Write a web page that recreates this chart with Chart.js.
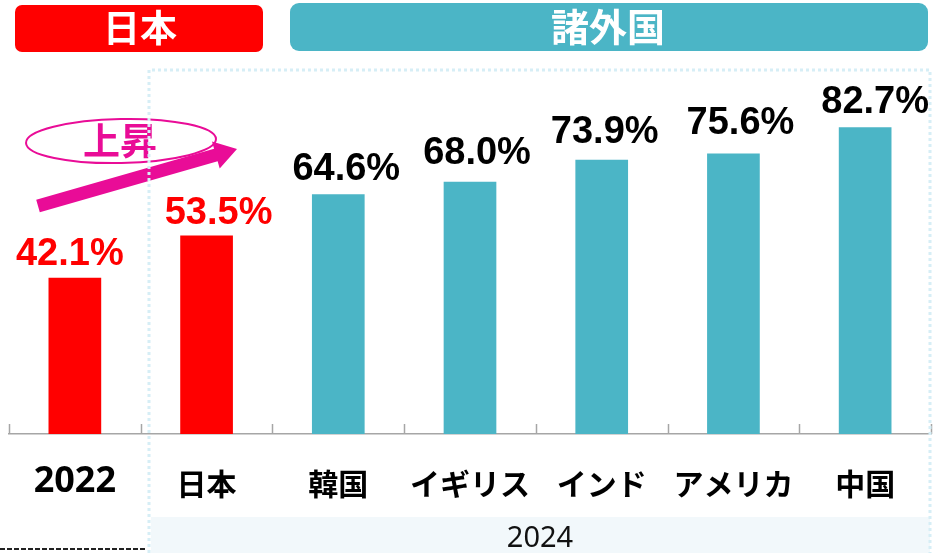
<!DOCTYPE html>
<html>
<head>
<meta charset="utf-8">
<script src="https://cdn.jsdelivr.net/npm/chart.js@4/dist/chart.umd.min.js"></script>
<style>
  html, body { margin: 0; padding: 0; background: #fff; }
  #wrap { width: 934px; height: 553px; }
</style>
</head>
<body>
<div id="wrap"><canvas id="chart" width="934" height="553"></canvas></div>
<script>
// data
const categories = ['2022', '日本', '韓国', 'イギリス', 'インド', 'アメリカ', '中国'];
const rates = [42.1, 53.5, 64.6, 68.0, 73.9, 75.6, 82.7];
const groupTitles = ['日本', '諸外国'];
const yearLabel = '2024';
const riseLabel = '上昇';

const RED = '#ff0000';
const TEAL = '#4bb5c6';
const PINK = '#e90c97';
const JP = '"Noto Sans CJK JP", sans-serif';

// small hand nudges for the value labels (dx, gap above bar)
const labelDx = [-5, 12, 8, 7, 3, 7, 10];
const labelGap = [13, 12, 14, 18, 17, 20, 14];

function roundRect(ctx, x, y, w, h, r, fill) {
    ctx.beginPath();
    ctx.moveTo(x + r, y);
    ctx.arcTo(x + w, y, x + w, y + h, r);
    ctx.arcTo(x + w, y + h, x, y + h, r);
    ctx.arcTo(x, y + h, x, y, r);
    ctx.arcTo(x, y, x + w, y, r);
    ctx.closePath();
    ctx.fillStyle = fill;
    ctx.fill();
}

const decorations = {
    id: 'decorations',
    beforeDraw(chart) {
        const ctx = chart.ctx;
        ctx.save();
        // 2024 band
        ctx.fillStyle = '#f2f8fb';
        ctx.fillRect(151, 517, 779, 36);
        ctx.fillStyle = '#111';
        ctx.font = '29px "Noto Sans", sans-serif';
        ctx.textAlign = 'center';
        ctx.textBaseline = 'middle';
        ctx.fillText(yearLabel, 540, 539);

        // group headers
        roundRect(ctx, 15, 5, 248, 47, 7, RED);
        roundRect(ctx, 290, 3, 638, 48, 9, TEAL);
        ctx.fillStyle = '#fff';
        ctx.font = 'bold 37px ' + JP;
        ctx.fillText(groupTitles[0], 140, 28);
        ctx.font = 'bold 38px ' + JP;
        ctx.fillText(groupTitles[1], 608, 27);

        // dashed line bottom left
        ctx.strokeStyle = '#222';
        ctx.lineWidth = 2;
        ctx.setLineDash([5, 2]);
        ctx.beginPath();
        ctx.moveTo(0, 549);
        ctx.lineTo(147, 549);
        ctx.stroke();
        ctx.restore();
    },
    afterDatasetsDraw(chart) {
        const ctx = chart.ctx;
        const x = chart.scales.x;
        const area = chart.chartArea;
        ctx.save();

        // tick marks pointing up from the axis
        ctx.strokeStyle = '#a6a6a6';
        ctx.lineWidth = 1.5;
        ctx.beginPath();
        for (let i = 0; i <= categories.length; i++) {
            const px = i < categories.length
                ? x.getPixelForValue(i) - (x.getPixelForValue(1) - x.getPixelForValue(0)) / 2
                : area.right;
            ctx.moveTo(Math.round(px) + 0.5, area.bottom - 10);
            ctx.lineTo(Math.round(px) + 0.5, area.bottom);
        }
        ctx.stroke();

        // value labels
        const meta = chart.getDatasetMeta(0);
        ctx.font = 'bold 38px "Liberation Sans", Arial, sans-serif';
        ctx.textAlign = 'center';
        ctx.textBaseline = 'alphabetic';
        meta.data.forEach((bar, i) => {
            ctx.fillStyle = i < 2 ? RED : '#000';
            ctx.fillText(rates[i].toFixed(1) + '%', bar.x + labelDx[i], bar.y - labelGap[i]);
        });

        // rise arrow
        const sx = 38, sy = 206, ex = 237, ey = 149;
        const len = Math.hypot(ex - sx, ey - sy);
        ctx.save();
        ctx.translate(sx, sy);
        ctx.rotate(Math.atan2(ey - sy, ex - sx));
        ctx.fillStyle = PINK;
        ctx.beginPath();
        ctx.moveTo(0, -6.5);
        ctx.lineTo(len - 22, -6.5);
        ctx.lineTo(len - 22, -14);
        ctx.lineTo(len, 0);
        ctx.lineTo(len - 22, 14);
        ctx.lineTo(len - 22, 6.5);
        ctx.lineTo(0, 6.5);
        ctx.closePath();
        ctx.fill();
        ctx.restore();

        ctx.strokeStyle = PINK;
        ctx.lineWidth = 2;
        ctx.beginPath();
        ctx.ellipse(121, 141, 95, 22, -0.02, 0, Math.PI * 2);
        ctx.stroke();
        ctx.fillStyle = PINK;
        ctx.font = 'bold 37px ' + JP;
        ctx.textAlign = 'center';
        ctx.textBaseline = 'middle';
        ctx.fillText(riseLabel, 120, 141);

        // dotted frame round the 2024 group
        ctx.strokeStyle = '#d6eef6';
        ctx.lineWidth = 3;
        ctx.setLineDash([3, 3]);
        ctx.beginPath();
        ctx.moveTo(149, 553);
        ctx.lineTo(149, 70);
        ctx.lineTo(930, 70);
        ctx.lineTo(930, 553);
        ctx.stroke();
        ctx.restore();
    }
};

new Chart(document.getElementById('chart'), {
    type: 'bar',
    data: {
        labels: categories,
        datasets: [{
            data: rates,
            backgroundColor: rates.map((v, i) => i < 2 ? RED : TEAL),
            barPercentage: 0.4,
            categoryPercentage: 1.0
        }]
    },
    options: {
        responsive: false,
        animation: false,
        layout: { padding: { top: 63, left: 9, right: 3, bottom: 0 } },
        plugins: {
            legend: { display: false },
            tooltip: { enabled: false }
        },
        scales: {
            x: {
                afterFit: (scale) => { scale.height = 119; },
                grid: { display: false },
                border: { display: true, color: '#a6a6a6', width: 1.5 },
                ticks: {
                    color: '#000',
                    padding: 24,
                    maxRotation: 0,
                    autoSkip: false,
                    font: (c) => c.index === 0
                        ? { family: '"Open Sans", sans-serif', size: 36, weight: 'bold', lineHeight: 0.9 }
                        : { family: JP, size: 30, weight: 'bold', lineHeight: 1.2 }
                }
            },
            y: {
                display: false,
                min: 0,
                max: 100
            }
        }
    },
    plugins: [decorations]
});
</script>
</body>
</html>
